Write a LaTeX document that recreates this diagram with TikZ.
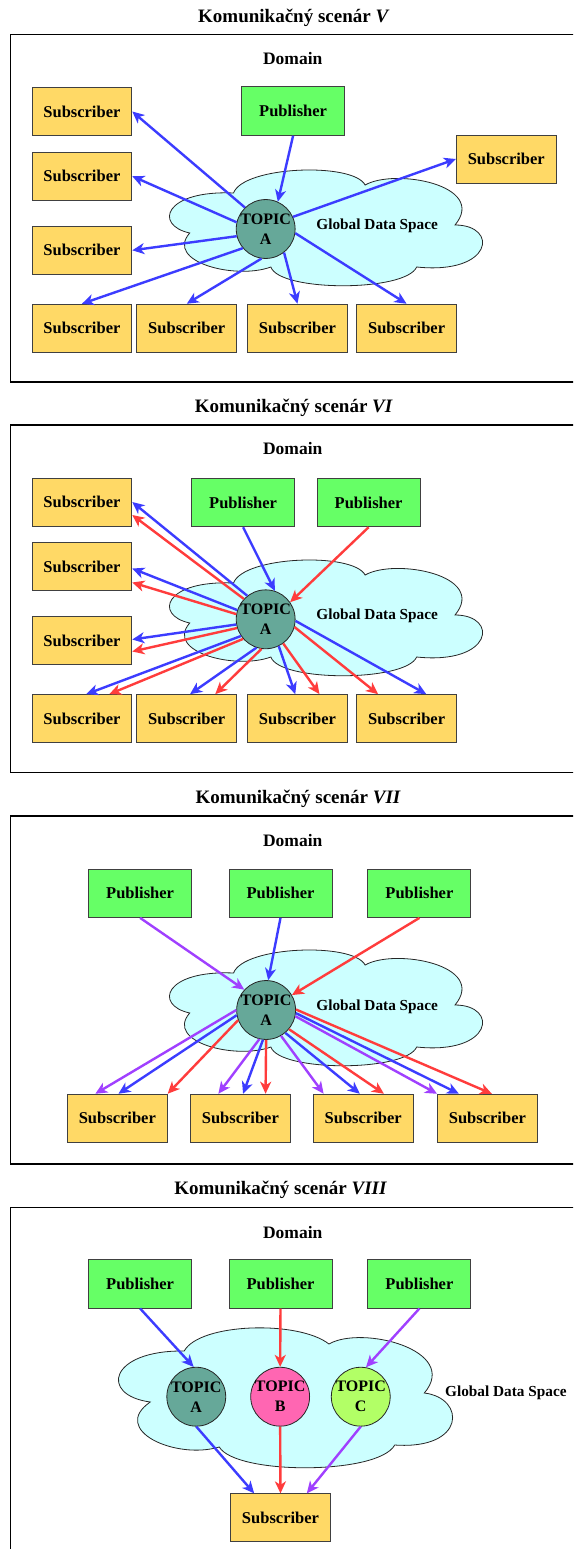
\documentclass[tikz,border=0pt]{standalone}
\usepackage{fontspec}
\setmainfont{Liberation Serif}
\usetikzlibrary{arrows.meta}
\definecolor{subY}{HTML}{FFD966}
\definecolor{pubG}{HTML}{66FF66}
\definecolor{topA}{HTML}{66A899}
\definecolor{topB}{HTML}{FF66B2}
\definecolor{topC}{HTML}{B2FF66}
\definecolor{gds}{HTML}{CCFFFF}
\definecolor{arrB}{HTML}{3C3CFF}
\definecolor{arrR}{HTML}{FF3C3C}
\definecolor{arrP}{HTML}{A040FF}
\tikzset{
  subbox/.style={draw=black!75, line width=0.9pt, fill=subY, minimum width=99.8pt, minimum height=48pt, inner sep=0pt, font=\fontsize{16.5}{19}\selectfont\bfseries},
  pubbox/.style={subbox, fill=pubG, minimum width=103pt, minimum height=48.5pt},
  topic/.style={circle, draw=black!85, line width=0.8pt, minimum size=57pt, inner sep=0pt, align=center, font=\fontsize{16}{20}\selectfont\bfseries},
  frame/.style={draw=black, line width=1.6pt},
  ttl/.style={font=\fontsize{19}{22}\selectfont\bfseries},
  dom/.style={font=\fontsize{17.5}{20}\selectfont\bfseries},
  gdslabel/.style={font=\fontsize{15.3}{18}\selectfont\bfseries},
  cloudst/.style={draw=black!85, line width=0.8pt, fill=gds},
  arr/.style={line width=2.4pt, -{Stealth[length=12pt,width=11pt,inset=3.5pt]}},
  ab/.style={arr, draw=arrB, arrB},
  ar/.style={arr, draw=arrR, arrR},
  ap/.style={arr, draw=arrP, arrP},
  gdsone/.pic={\path[cloudst] (213,193) .. controls (222,166) and (322,162) .. (333,185)
      .. controls (360,168) and (445,185) .. (415,225)
      .. controls (455,225) and (450,275) .. (380,267)
      .. controls (370,292) and (255,292) .. (247,267)
      .. controls (215,280) and (150,262) .. (173,233)
      .. controls (140,225) and (150,190) .. (213,193) -- cycle;},
  gdsfour/.pic={\path[cloudst] (168,181) .. controls (182,153) and (272,150) .. (300,174)
      .. controls (330,155) and (420,180) .. (387,223)
      .. controls (425,228) and (425,280) .. (360,275)
      .. controls (345,305) and (215,305) .. (200,277)
      .. controls (160,290) and (100,260) .. (137,232)
      .. controls (90,225) and (100,180) .. (168,181) -- cycle;}
}
\begin{document}
\begin{tikzpicture}[x=1.0965pt,y=-1pt]
\useasboundingbox (0,0) rectangle (522.57,1549);
\clip (0,0) rectangle (522.57,1549);
\fill[white] (0,0) rectangle (522.57,1549);

% ---------------- Panel V ----------------
\begin{scope}
\node[ttl] (at) at (268,18) {Komunikačný scenár \textit{V}};
\draw[frame] (9.5,34.5) rectangle (560,382);
\node[dom] (ad) at (267,59) {Domain};
\pic at (0,0) {gdsone};
\node[gdslabel] (ag) at (344,226) {Global Data Space};
\node[subbox] (as1) at (74.7,111.5) {Subscriber};
\node[pubbox] (ap) at (267.3,111) {Publisher};
\node[subbox] (as2) at (74.7,176.2) {Subscriber};
\node[subbox] (asr) at (461.7,159) {Subscriber};
\node[subbox] (as3) at (74.7,250.3) {Subscriber};
\node[subbox] (ab1) at (74.7,328.2) {Subscriber};
\node[subbox] (ab2) at (170.3,328.2) {Subscriber};
\node[subbox] (ab3) at (271.3,328.2) {Subscriber};
\node[subbox] (ab4) at (370.8,328.2) {Subscriber};
\node[topic, fill=topA] (atp) at (242.3,229) {TOPIC\\A};
\draw[ab] (ap.south) -- (atp.66);
\draw[ab] (atp.134) -- (as1.east);
\draw[ab] (atp.167) -- (as2.east);
\draw[ab] (atp.194) -- (as3.east);
\draw[ab] (atp.220) -- (ab1.north);
\draw[ab] (atp.262) -- (ab2.north);
\draw[ab] (atp.308) -- (ab3.north);
\draw[ab] (atp.-8) -- (ab4.north);
\draw[ab] (atp.24) -- (asr.west);
\end{scope}

% ---------------- Panel VI ----------------
\begin{scope}[yshift=-390pt]
\node[ttl] (bt) at (268,18) {Komunikačný scenár \textit{VI}};
\draw[frame] (9.5,35) rectangle (560,382.3);
\node[dom] (bd) at (267,59) {Domain};
\pic at (0,0) {gdsone};
\node[gdslabel] (bg) at (344,226) {Global Data Space};
\node[subbox] (bs1) at (74.7,112) {Subscriber};
\node[pubbox] (bp1) at (221.7,112.5) {Publisher};
\node[pubbox] (bp2) at (336.2,112.5) {Publisher};
\node[subbox] (bs2) at (74.7,176.5) {Subscriber};
\node[subbox] (bs3) at (74.7,250.5) {Subscriber};
\node[subbox] (bb1) at (74.7,328.6) {Subscriber};
\node[subbox] (bb2) at (170.3,328.6) {Subscriber};
\node[subbox] (bb3) at (271.3,328.6) {Subscriber};
\node[subbox] (bb4) at (370.8,328.6) {Subscriber};
\node[topic, fill=topA] (btp) at (242.3,229.3) {TOPIC\\A};
\draw[ab] (bp1.south) -- (btp.72);
\draw[ar] (bp2.south) -- (btp.35);
\draw[ab] (btp.128) -- ([yshift=0pt]bs1.east);
\draw[ar] (btp.137) -- ([yshift=-13pt]bs1.east);
\draw[ab] (btp.162) -- ([yshift=-2pt]bs2.east);
\draw[ar] (btp.170) -- ([yshift=-16pt]bs2.east);
\draw[ab] (btp.190) -- ([yshift=1pt]bs3.east);
\draw[ar] (btp.197) -- ([yshift=-11pt]bs3.east);
\draw[ab] (btp.214) -- ([xshift=4.4pt]bb1.north);
\draw[ar] (btp.221) -- ([xshift=27.4pt]bb1.north);
\draw[ab] (btp.252) -- ([xshift=3.3pt]bb2.north);
\draw[ar] (btp.262) -- ([xshift=28.5pt]bb2.north);
\draw[ab] (btp.296) -- ([xshift=-2.2pt]bb3.north);
\draw[ar] (btp.306) -- ([xshift=22pt]bb3.north);
\draw[ar] (btp.345) -- ([xshift=-28.5pt]bb4.north);
\draw[ab] (btp.-3) -- ([xshift=19.7pt]bb4.north);
\end{scope}

% ---------------- Panel VII ----------------
\begin{scope}[yshift=-780pt]
\node[ttl] (ct) at (272,19) {Komunikačný scenár \textit{VII}};
\draw[frame] (9.5,36) rectangle (560,384);
\node[dom] (cd) at (267,61) {Domain};
\pic at (0,0) {gdsone};
\node[gdslabel] (cg) at (344,226.5) {Global Data Space};
\node[pubbox] (cp1) at (127.8,113.2) {Publisher};
\node[pubbox] (cp2) at (255.8,113.2) {Publisher};
\node[pubbox] (cp3) at (382.5,113.2) {Publisher};
\node[subbox] (cs1) at (107,338.2) {Subscriber};
\node[subbox] (cs2) at (219.2,338.2) {Subscriber};
\node[subbox] (cs3) at (331.2,338.2) {Subscriber};
\node[subbox] (cs4) at (444.5,338.2) {Subscriber};
\node[topic, fill=topA] (ctp) at (242.7,230) {TOPIC\\A};
\draw[ap] (cp1.south) -- (ctp.137);
\draw[ab] (cp2.south) -- (ctp.86);
\draw[ar] (cp3.south) -- (ctp.30);
\draw[ap] (ctp.180) -- ([xshift=-22pt]cs1.north);
\draw[ab] (ctp.190) -- ([xshift=1.1pt]cs1.north);
\draw[ar] (ctp.200) -- (cs1.north east);
\draw[ap] (ctp.257) -- ([xshift=-22pt]cs2.north);
\draw[ab] (ctp.264) -- ([xshift=2.7pt]cs2.north);
\draw[ar] (ctp.270) -- ([xshift=25.2pt]cs2.north);
\draw[ap] (ctp.300) -- ([xshift=-39.5pt]cs3.north);
\draw[ab] (ctp.310) -- ([xshift=-3.3pt]cs3.north);
\draw[ar] (ctp.320) -- ([xshift=20.8pt]cs3.north);
\draw[ap] (ctp.348) -- (cs4.north west);
\draw[ab] (ctp.354) -- ([xshift=-28.5pt]cs4.north);
\draw[ar] (ctp.1) -- ([xshift=4.4pt]cs4.north);
\end{scope}

% ---------------- Panel VIII ----------------
\begin{scope}[yshift=-1170pt]
\node[ttl] (dt) at (256,20) {Komunikačný scenár \textit{VIII}};
\draw[frame] (9.5,37.3) rectangle (560,420);
\node[dom] (dd) at (267,62) {Domain};
\pic at (0,0) {gdsfour};
\node[gdslabel, anchor=west] (dg) at (402.7,222.7) {Global Data Space};
\node[pubbox] (dp1) at (127.8,113.8) {Publisher};
\node[pubbox] (dp2) at (255.8,113.8) {Publisher};
\node[pubbox] (dp3) at (382.5,113.8) {Publisher};
\node[topic, fill=topA, minimum size=58pt] (dta) at (179,226.7) {TOPIC\\A};
\node[topic, fill=topB, minimum size=58pt] (dtb) at (255.5,226.7) {TOPIC\\B};
\node[topic, fill=topC, minimum size=58pt] (dtc) at (329,226.7) {TOPIC\\C};
\node[subbox] (ds) at (255.8,347.8) {Subscriber};
\draw[ab] (dp1.south) -- (dta.95);
\draw[ar] (dp2.south) -- (dtb.north);
\draw[ap] (dp3.south) -- (dtc.80);
\draw[ab] (dta.south) -- ([xshift=-26.3pt]ds.north);
\draw[ar] (dtb.south) -- (ds.north);
\draw[ap] (dtc.south) -- ([xshift=26.3pt]ds.north);
\end{scope}
\end{tikzpicture}
\end{document}
